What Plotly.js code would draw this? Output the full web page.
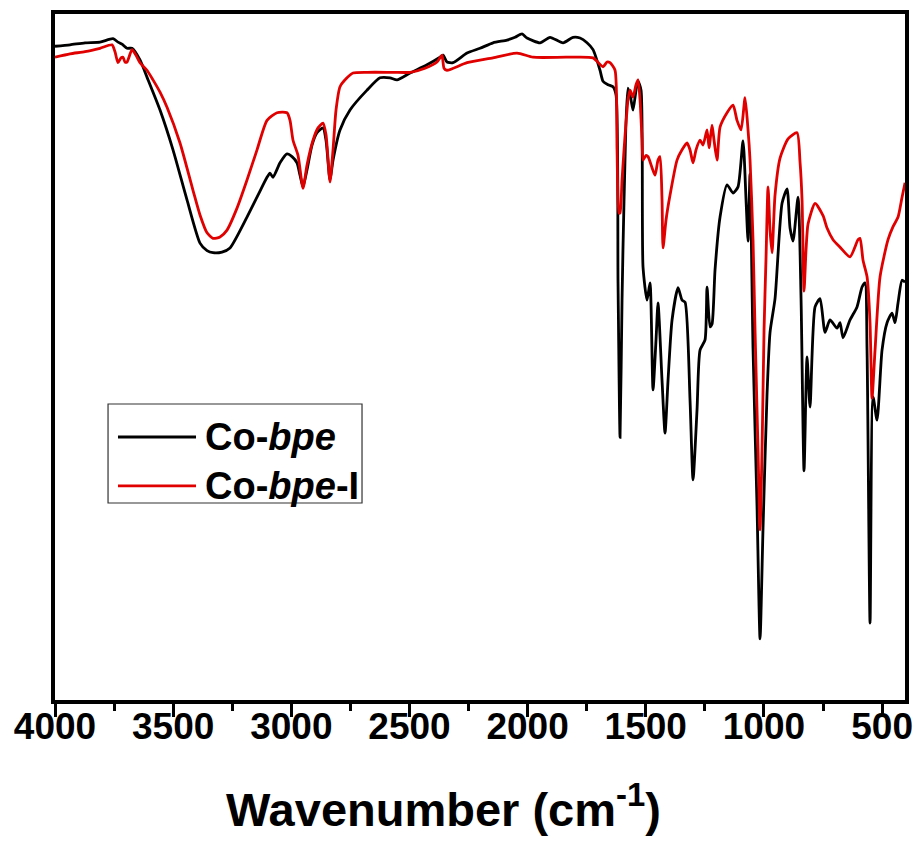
<!DOCTYPE html>
<html>
<head>
<meta charset="utf-8">
<script src="https://cdn.plot.ly/plotly-3.0.1.min.js"></script>
<style>html,body{margin:0;padding:0;background:#fff;}#chart{width:915px;height:850px;}</style>
</head>
<body>
<div id="chart"></div>
<script>
// Co-bpe (black)
const wnCoBpe = [4000,3936.5,3873,3809.6,3754.5,3733.4,3716.5,3695.3,3674.1,3640.3,3610.7,3555.6,3500.6,3441.4,3386.4,3356.7,3331.3,3293.3,3259.4,3187.5,3140.9,3102.8,3090.2,3077.5,3047.8,3018.2,2997,2975.9,2963.2,2950.5,2933.5,2912.4,2891.2,2865.8,2853.1,2836.2,2823.5,2793.9,2751.6,2679.6,2624.6,2582.3,2552.7,2497.6,2425.7,2370.7,2358,2341.1,2315.7,2256.4,2201.4,2146.4,2087.1,2053.3,2023.7,2002.5,1947.5,1905.2,1850.1,1807.8,1778.2,1748.6,1723.2,1693.6,1680.9,1659.7,1638.5,1625.8,1617.4,1608.9,1600.4,1592,1575.1,1562.4,1553.9,1541.2,1532.7,1520,1511.6,1494.7,1482,1469.3,1456.6,1448.1,1431.2,1418.5,1405.8,1388.8,1363.4,1346.5,1333.8,1312.7,1300,1283.1,1270.4,1249.2,1240.7,1228,1219.6,1206.9,1185.7,1156.1,1130.7,1109.6,1088.4,1075.7,1067.2,1058.8,1046.1,1029.2,1016.4,1003.7,986.8,974.1,953,923.3,902.2,889.5,876.8,855.6,842.9,830.3,817.6,804.9,783.7,762.5,741.4,720.2,690.6,677.9,665.2,635.6,606,584.8,572.2,563.6,550.9,538.2,521.3,500.2,478.9,457.8,445.1,432.4,415.5,402.8];
const tCoBpe = [95.3,95.5,95.8,95.9,96.4,95.9,95.6,95,95,93.3,90.8,86,80.2,72.9,66.6,65.5,65.2,65.3,65.9,70.4,73.6,76.2,76.8,76.2,78.3,79.6,79.2,78.3,76.5,74.8,77.3,80.9,82.7,83.4,81.6,75.8,78.7,83.1,86,88.9,90.7,90.7,90.4,91.4,92.6,93.7,94,93,92.9,94.3,95,95.8,96.2,96.6,97.1,96.5,95.8,96.6,95.8,96.6,96.5,95.8,94.8,91.8,90.2,89.7,89.4,88.2,60.8,38.3,58.3,72.9,89.2,87.5,86,88.9,90.2,88.9,63.1,58.3,60.8,45.2,52.5,57.9,46.6,38.9,46.6,55.4,60.1,58.3,58,43.7,32.1,42.3,51,52.5,60.2,54.4,54.8,62.7,70.4,75.1,73.9,74.8,81.5,72.9,66.9,76.7,51.2,28.3,8.9,25.2,44.6,53.6,58.5,72.4,74.5,68.8,66.9,73.3,58.5,33.4,50,42.7,57.3,58.5,53.6,55.4,54.2,55,52.8,55.4,57.3,60.2,60.8,51,11.2,44.2,40.8,51,55,56.4,55,57.9,61.2,60.9];

// Co-bpe-I (red)
const wnCoBpeI = [4000,3936.5,3873,3809.6,3758.8,3746.1,3733.4,3720.7,3712.2,3703.8,3695.3,3674.1,3657.2,3640.3,3610.7,3585.3,3555.6,3526,3471,3416,3386.4,3356.7,3331.3,3301.7,3272.1,3229.8,3187.5,3145.1,3102.8,3060.5,3018.2,3005.5,2992.8,2971.6,2950.5,2933.5,2908.1,2887,2865.8,2853.1,2836.2,2823.5,2810.8,2793.9,2764.3,2738.9,2679.6,2569.6,2497.6,2434.2,2383.4,2370.7,2362.2,2353.8,2341.1,2256.4,2146.4,2044.8,1977.1,1833.2,1723.2,1680.9,1664,1651.3,1630.1,1621.6,1613.2,1608.9,1600.4,1592,1575.1,1566.6,1553.9,1541.2,1532.7,1524.3,1515.8,1511.6,1498.9,1490.4,1473.5,1460.8,1448.1,1439.6,1431.2,1426.9,1414.2,1397.3,1367.7,1346.5,1325.4,1312.7,1300,1287.3,1270.4,1257.7,1240.7,1232.3,1219.6,1211.1,1198.4,1185.7,1156.1,1130.7,1113.8,1096.8,1079.9,1067.2,1058.8,1046.1,1037.6,1024.9,1016.4,1008,999.5,991,982.6,974.1,965.6,953,931.8,897.9,859.9,847.2,838.7,830.3,821.8,813.3,783.7,749.8,732.9,707.5,677.9,635.6,601.8,593.3,580.6,563.6,551,542.5,529.8,508.6,474.8,453.6,432.4,415.5,402.8];
const tCoBpeI = [93.7,94.2,94.5,95,95.5,94.5,92.9,93.6,93.7,93,93,94.8,94,92.9,91.8,90.4,88.6,86.4,81.2,74.3,70.7,68.1,67.3,67.5,68.5,71.7,75.8,80.2,84.5,85.6,85.6,84.5,81.6,79.4,74.6,78,81.6,83.4,84.1,82.4,75.5,80.2,86,89.4,90.7,91.4,91.5,91.5,91.5,92.1,93,93.6,94,92.1,91.8,92.9,93.6,94.3,93.7,93.7,93.6,92.3,93,92.9,91.8,80.2,71,71,75.8,80.2,87.5,88.9,87.9,89.7,90.4,87.5,81.6,78.7,79.4,79.2,77.6,76.5,78.7,79.2,72.9,65.9,70,73.6,78.7,80.2,81.2,80.2,78.3,80.2,81.6,80.9,83.1,80.5,83.8,81.6,78.7,83.5,85.6,86.7,84.5,83.1,87.8,83.1,78.7,67.1,53.9,36.4,24.8,36.4,53.9,64.6,74.8,68.5,65.2,73.6,79,81.8,82.7,78.4,72.9,59.6,65.6,69.4,72.4,70.6,68.8,67.1,66,64.6,67.1,67.3,64.1,61.7,55,44,51,61.7,67.1,69,70.4,73.3,75.4];

const seriesNames = ['Co-<i>bpe</i>', 'Co-<i>bpe</i>-I'];
const xTickVals = [4000,3500,3000,2500,2000,1500,1000,500];
const xTitle = 'Wavenumber (cm<sup>-1</sup>)';

const FONT = 'Arial, "Liberation Sans", sans-serif';

const traces = [
  {x: wnCoBpe, y: tCoBpe, type: 'scatter', mode: 'lines', name: seriesNames[0],
   line: {color: '#000000', width: 2.8, shape: 'spline', smoothing: 0.6}, showlegend: false},
  {x: wnCoBpeI, y: tCoBpeI, type: 'scatter', mode: 'lines', name: seriesNames[1],
   line: {color: '#e00000', width: 2.8, shape: 'spline', smoothing: 0.6}, showlegend: false}
];

// legend drawn in paper coordinates
const lgX0 = 0.0624, lgX1 = 0.3612, lgY0 = 0.2872, lgY1 = 0.4315;
const rowY = [0.3834, 0.3120];
const sampleX = [0.0741, 0.1659];
const textX = 0.1740;
const colors = ['#000000', '#e00000'];

const shapes = [
  {type: 'rect', xref: 'paper', yref: 'paper', x0: lgX0, x1: lgX1, y0: lgY0, y1: lgY1,
   line: {color: '#333333', width: 1.2}, fillcolor: 'rgba(255,255,255,1)'}
];
const annotations = [];
for (let i = 0; i < 2; i++) {
  shapes.push({type: 'line', xref: 'paper', yref: 'paper', x0: sampleX[0], x1: sampleX[1],
    y0: rowY[i], y1: rowY[i], line: {color: colors[i], width: 2.8}});
  annotations.push({xref: 'paper', yref: 'paper', x: textX, y: rowY[i], xanchor: 'left', yanchor: 'middle',
    text: seriesNames[i], showarrow: false,
    font: {family: FONT, size: 38, color: '#000', weight: 'bold'}});
}
// x-axis title (placed as the reference shows it, slightly left of the axis centre)
annotations.push({xref: 'paper', yref: 'paper', x: 0.4576, y: -0.155, xanchor: 'center', yanchor: 'middle',
  text: xTitle, showarrow: false,
  font: {family: FONT, size: 47, color: '#000', weight: 'bold'}});

const layout = {
  width: 915, height: 850,
  margin: {l: 55, r: 10, t: 14, b: 150, pad: 0},
  paper_bgcolor: '#ffffff', plot_bgcolor: '#ffffff',
  showlegend: false,
  xaxis: {
    range: [4000, 403], autorange: false,
    tickmode: 'array', tickvals: xTickVals, ticktext: xTickVals.map(String),
    ticks: 'outside', ticklen: 13, tickwidth: 3, tickcolor: '#000',
    ticklabelstandoff: -22,
    minor: {dtick: 250, tick0: 0, ticks: 'outside', ticklen: 7, tickwidth: 3, tickcolor: '#000', showgrid: false},
    showline: true, linewidth: 4, linecolor: '#000', mirror: true,
    showgrid: false, zeroline: false,
    tickfont: {family: FONT, size: 37, color: '#000', weight: 'bold'}
  },
  yaxis: {
    range: [0, 100], autorange: false,
    showticklabels: false, ticks: '',
    showline: true, linewidth: 4, linecolor: '#000', mirror: true,
    showgrid: false, zeroline: false
  },
  shapes: shapes,
  annotations: annotations
};

Plotly.newPlot('chart', traces, layout, {displayModeBar: false, staticPlot: true});
</script>
</body>
</html>
